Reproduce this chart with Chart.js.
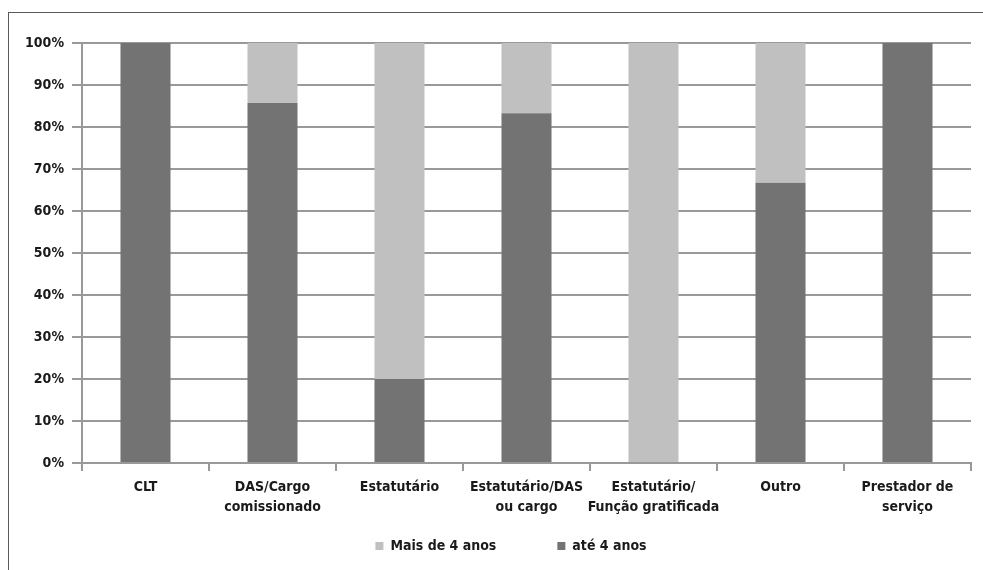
<!DOCTYPE html>
<html>
<head>
<meta charset="utf-8">
<script src="https://cdn.jsdelivr.net/npm/chart.js@4"></script>
<style>
  body { margin: 0; background: #fff; }
  #wrap { position: relative; width: 983px; height: 570px; }
  #frame {
    position: absolute; left: 8px; top: 12px; right: 0; bottom: 0;
    border-top: 1px solid #5a5a5a; border-left: 1px solid #5a5a5a;
    pointer-events: none;
  }
  canvas { position: absolute; left: 0; top: 0; }
</style>
</head>
<body>
<div id="wrap">
  <canvas id="chart" width="983" height="570"></canvas>
  <div id="frame"></div>
</div>
<script>
// Categories (multi-line labels as in the original)
const categories = [
    'CLT',
    ['DAS/Cargo', 'comissionado'],
    'Estatutário',
    ['Estatutário/DAS', 'ou cargo'],
    ['Estatutário/', 'Função gratificada'],
    'Outro',
    ['Prestador de', 'serviço']
];

// Share of each group (%)
const ate4anos = [100, 85.7, 20, 83.3, 0, 66.7, 100];
const mais4anos = [0, 14.3, 80, 16.7, 100, 33.3, 0];

const yTicks = [0, 10, 20, 30, 40, 50, 60, 70, 80, 90, 100];

const fontFamily = "'Liberation Sans Narrow', 'DejaVu Sans Condensed', sans-serif";
const gridColor = '#999999';

// Legend sits a bit right of the canvas centre and has wide item spacing,
// so shrink its layout box and move it after layout
const legendPlacer = {
    id: 'legendPlacer',
    beforeLayout(chart) {
        const lg = chart.legend;
        if (lg && !lg._wrapped) {
            const fit = lg.fit;
            lg.fit = function() {
                fit.call(this);
                this.height = 50;
            };
            lg._wrapped = true;
        }
    },
    afterLayout(chart) {
        const lg = chart.legend;
        if (!lg) return;
        lg.left = 51;
        lg.top = 478;
    }
};

document.addEventListener('DOMContentLoaded', function() {
    const ctx = document.getElementById('chart').getContext('2d');

    new Chart(ctx, {
        type: 'bar',
        data: {
            labels: categories,
            datasets: [
                {
                    label: 'até 4 anos',
                    data: ate4anos,
                    backgroundColor: '#737373',
                    barPercentage: 0.394,
                    categoryPercentage: 1
                },
                {
                    label: 'Mais de 4 anos',
                    data: mais4anos,
                    backgroundColor: '#c0c0c0',
                    barPercentage: 0.394,
                    categoryPercentage: 1
                }
            ]
        },
        options: {
            responsive: false,
            animation: false,
            devicePixelRatio: 1,
            layout: {
                padding: { left: 0, right: 12, top: 43, bottom: 0 }
            },
            plugins: {
                title: { display: false },
                tooltip: { enabled: false },
                legend: {
                    position: 'bottom',
                    reverse: true,
                    labels: {
                        boxWidth: 8,
                        boxHeight: 8,
                        padding: 61,
                        color: '#1a1a1a',
                        font: { family: fontFamily, size: 14, weight: 'bold' }
                    }
                }
            },
            scales: {
                x: {
                    stacked: true,
                    afterFit: function(scale) { scale.height = 57; },
                    grid: {
                        drawOnChartArea: false,
                        drawTicks: true,
                        tickLength: 8,
                        color: gridColor,
                        lineWidth: 2
                    },
                    border: { display: true, color: gridColor, width: 2 },
                    ticks: {
                        autoSkip: false,
                        maxRotation: 0,
                        padding: 6,
                        color: '#1a1a1a',
                        font: { family: fontFamily, size: 14, weight: 'bold', lineHeight: 1.43 }
                    }
                },
                y: {
                    stacked: true,
                    min: 0,
                    max: 100,
                    afterFit: function(scale) { scale.width = 82; },
                    afterBuildTicks: function(scale) {
                        scale.ticks = yTicks.map(v => ({ value: v }));
                    },
                    grid: {
                        color: gridColor,
                        lineWidth: 2,
                        tickLength: 10
                    },
                    border: { display: true, color: gridColor, width: 2 },
                    ticks: {
                        padding: 8,
                        color: '#1a1a1a',
                        font: { family: fontFamily, size: 14, weight: 'bold' },
                        callback: function(value) { return value + '%'; }
                    }
                }
            }
        },
        plugins: [legendPlacer]
    });
});
</script>
</body>
</html>
